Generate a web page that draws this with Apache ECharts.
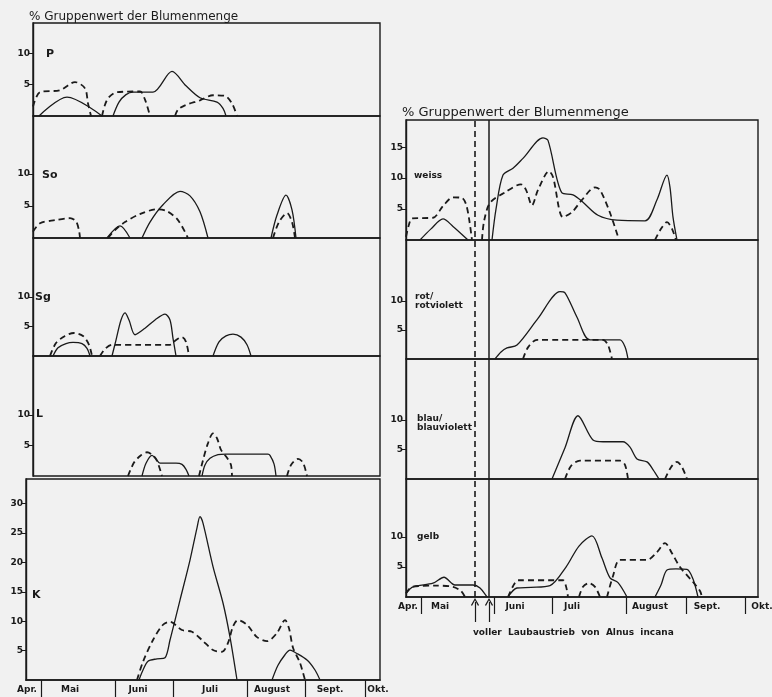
<!DOCTYPE html>
<html><head><meta charset="utf-8">
<script src="https://cdn.jsdelivr.net/npm/echarts@6/dist/echarts.min.js"></script>
<style>html,body{margin:0;padding:0;background:#f1f1f1}#c{width:772px;height:697px}</style>
</head><body><div id="c"></div>
<script>
// ---- axis annotations (x in figure units along the season axis) ----
const monthNames = ['Apr.', 'Mai', 'Juni', 'Juli', 'August', 'Sept.', 'Okt.'];
const leftMonthTicks = [15, 89, 147, 221, 279, 339];
const leftMonthLabelPos = [1, 44, 112, 184, 246, 304, 352];
const rightMonthTicks = [15, 88, 146, 220, 280, 339];
const rightMonthLabelPos = [2, 34, 109, 166, 244, 301, 356];
const laubaustrieb = [69, 83]; // dashed, solid
const yTicksSmall = [5, 10];
const yTicksWeiss = [5, 10, 15];
const yTicksK = [5, 10, 15, 20, 25, 30];

// ---- left chart series (solid / dashed segments) ----
const P_solid = [
  [[13,0],[41,3.0],[76,0]],
  [[87,0],[93,2.2],[100,3.4],[107,3.8],[127,3.8],[146,7.1],[160,4.8],[174,2.9],[191,2.2],[197,1.2],[200,0]]
];
const P_dashed = [
  [[7,1.5],[14,3.8],[34,4.1],[49,5.4],[59,4.4],[62,2.0],[65,0]],
  [[76,0],[79,1.8],[83,3.0],[91,3.8],[114,3.9],[119,2.6],[124,0]],
  [[149,0],[152,1.0],[159,1.7],[174,2.5],[187,3.3],[199,3.2],[206,2.0],[211,0]]
];
const So_solid = [
  [[81,0],[94,1.9],[104,0]],
  [[116,0],[124,2.5],[137,5.2],[154,7.3],[164,6.6],[174,4.1],[182,0]],
  [[245,0],[251,3.6],[260,6.7],[266,4.4],[270,0]]
];
const So_dashed = [
  [[7,1.0],[14,2.3],[29,2.8],[44,3.1],[50,2.6],[53,1.2],[54,0]],
  [[82,0],[89,1.25],[99,2.5],[114,3.75],[131,4.5],[141,4.2],[152,2.8],[162,0]],
  [[247,0],[253,2.5],[261,3.9],[266,2.5],[269,0]]
];
const Sg_solid = [
  [[27,0],[32,1.4],[40,2.1],[47,2.3],[56,2.1],[61,1.3],[64,0]],
  [[86,0],[90,2.7],[95,6.1],[99,7.3],[103,6.1],[109,3.6],[119,4.7],[129,6.1],[139,7.1],[144,6.1],[147,3.0],[150,0]],
  [[187,0],[193,2.4],[200,3.4],[207,3.7],[215,3.2],[221,1.9],[225,0]]
];
const Sg_dashed = [
  [[24,0],[30,2.2],[39,3.4],[48,3.9],[57,3.4],[63,1.9],[66,0]],
  [[74,0],[79,1.2],[86,1.9],[114,1.9],[144,1.9],[150,2.7],[156,3.2],[160,2.4],[163,0]]
];
const L_solid = [
  [[116,0],[120,2.1],[126,3.4],[130,2.8],[134,2.1],[150,2.1],[156,1.9],[160,1.1],[163,0]],
  [[176,0],[179,1.8],[184,2.9],[192,3.5],[200,3.6],[220,3.6],[242,3.6],[244,3.4],[248,2.0],[250,0]]
];
const L_dashed = [
  [[102,0],[108,2.2],[115,3.4],[121,3.9],[127,3.4],[131,2.5],[136,0]],
  [[173,0],[177,2.6],[182,5.4],[187,7.0],[191,6.2],[195,4.3],[201,3.0],[205,1.8],[206,0]],
  [[261,0],[265,1.8],[272,2.8],[277,2.2],[281,0]]
];
const K_solid = [
  [[113,0],[117,1.7],[122,3.2],[131,3.6],[139,3.8],[144,6.8],[154,13.6],[164,20.4],[171,25.9],[174,27.8],[177,26.7],[187,19.3],[197,13.1],[204,7.3],[211,0]],
  [[246,0],[252,2.5],[259,4.3],[264,5.1],[270,4.6],[281,3.4],[289,1.7],[294,0]]
];
const K_dashed = [
  [[111,0],[117,3.1],[127,6.8],[137,9.4],[144,9.9],[156,8.5],[166,8.2],[176,6.8],[187,5.1],[196,4.8],[202,6.3],[207,9.1],[212,10.2],[221,9.4],[231,7.3],[241,6.6],[251,8.0],[259,10.2],[263,8.8],[267,5.5],[274,2.9],[279,0]]
];

// ---- right chart series ----
const W_solid = [
  [[14,0],[25,1.8],[37,3.4],[47,2.2],[62,0]],
  [[86,0],[90,5.0],[97,10.5],[107,11.6],[117,13.2],[137,16.5],[142,16.1],[156,7.6],[167,7.3],[177,6.1],[192,4.0],[211,3.2],[239,3.1],[251,6.5],[261,10.5],[264,8.5],[267,3.7],[271,0]]
];
const W_dashed = [
  [[0,0.5],[3,2.5],[6,3.5],[27,3.6],[37,5.5],[47,6.9],[56,6.8],[60,5.8],[63,3.5],[66,0]],
  [[76,0],[78,3.0],[84,6.0],[99,7.7],[115,9.0],[120,8.1],[126,5.6],[132,8.1],[143,11.1],[147,10.2],[157,3.7],[166,4.5],[176,6.5],[189,8.5],[194,8.1],[204,4.4],[213,0]],
  [[249,0],[255,1.8],[261,2.9],[266,1.8],[270,0]]
];
const R_solid = [
  [[89,0],[95,1.2],[101,1.9],[111,2.4],[132,7.0],[154,11.6],[159,11.4],[171,7.2],[184,3.3],[214,3.3],[219,2.1],[222,0]]
];
const R_dashed = [
  [[117,0],[122,2.0],[131,3.3],[197,3.3],[202,2.4],[206,0]]
];
const B_solid = [
  [[146,0],[159,5.3],[172,10.7],[187,6.6],[197,6.3],[217,6.3],[224,5.4],[231,3.4],[241,2.9],[247,1.6],[253,0]]
];
const B_dashed = [
  [[159,0],[165,2.2],[174,3.1],[214,3.1],[219,2.4],[222,0]],
  [[259,0],[265,2.0],[271,2.9],[276,2.0],[281,0]]
];
const G_solid = [
  [[0,0.6],[7,1.7],[27,2.3],[38,3.3],[49,2.0],[67,2.0],[74,1.5],[81,0]],
  [[102,0],[111,1.5],[125,1.6],[144,1.9],[160,5.0],[173,8.5],[186,10.2],[196,6.5],[204,3.2],[212,2.4],[221,0]],
  [[249,0],[255,2.0],[261,4.5],[270,4.7],[281,4.6],[287,3.0],[292,0]]
];
const G_dashed = [
  [[0,0.6],[6,1.7],[30,1.9],[47,1.7],[55,1.0],[59,0]],
  [[102,0],[107,1.8],[112,2.8],[157,2.8],[160,1.8],[162,0]],
  [[173,0],[177,1.7],[183,2.3],[189,1.7],[194,0]],
  [[201,0],[207,3.5],[214,6.2],[241,6.2],[251,7.5],[259,9.0],[266,7.3],[274,5.0],[287,2.5],[294,1.0],[296,0]]
];

// ---- build option ----
const INK = '#1a1a1a';
const FONT = 'DejaVu Sans';
const panels = [
  {grid:{left:33,top:23,width:347,height:93}, xMin:7, xMax:354, yMax:14.8, yTicks:yTicksSmall, solid:P_solid, dashed:P_dashed},
  {grid:{left:33,top:116,width:347,height:122}, xMin:7, xMax:354, yMax:19.1, yTicks:yTicksSmall, solid:So_solid, dashed:So_dashed},
  {grid:{left:33,top:238,width:347,height:118}, xMin:7, xMax:354, yMax:20.0, yTicks:yTicksSmall, solid:Sg_solid, dashed:Sg_dashed},
  {grid:{left:33,top:356,width:347,height:120}, xMin:7, xMax:354, yMax:19.7, yTicks:yTicksSmall, solid:L_solid, dashed:L_dashed},
  {grid:{left:26,top:479,width:354,height:201}, xMin:0, xMax:354, yMax:34.2, yTicks:yTicksK, solid:K_solid, dashed:K_dashed, months:leftMonthTicks},
  {grid:{left:406,top:120,width:352,height:120}, xMin:0, xMax:352, yMax:19.4, yTicks:yTicksWeiss, solid:W_solid, dashed:W_dashed},
  {grid:{left:406,top:240,width:352,height:119}, xMin:0, xMax:352, yMax:20.5, yTicks:yTicksSmall, solid:R_solid, dashed:R_dashed},
  {grid:{left:406,top:359,width:352,height:120}, xMin:0, xMax:352, yMax:20.3, yTicks:yTicksSmall, solid:B_solid, dashed:B_dashed},
  {grid:{left:406,top:479,width:352,height:118}, xMin:0, xMax:352, yMax:19.7, yTicks:yTicksSmall, solid:G_solid, dashed:G_dashed, months:rightMonthTicks}
];

const grid = [], xAxis = [], yAxis = [], series = [];
const lbl = {fontFamily: FONT, fontWeight: 'bold', fontSize: 9, color: INK};

panels.forEach((p, i) => {
  grid.push(Object.assign({show:true, borderColor:INK, borderWidth:1.4, backgroundColor:'transparent', outerBoundsMode:'none'}, p.grid));
  xAxis.push({
    type:'value', gridIndex:i, min:p.xMin, max:p.xMax,
    axisLine:{show: !!p.months, lineStyle:{color:INK, width:1.7}},
    axisTick:{show: !!p.months, customValues: p.months || [], length:17, lineStyle:{color:INK, width:1.2}},
    axisLabel:{show:false}, splitLine:{show:false}
  });
  yAxis.push({
    type:'value', gridIndex:i, min:0, max:p.yMax,
    axisLine:{show:true, lineStyle:{color:INK, width:1.4}},
    axisTick:{show:true, customValues:p.yTicks, length:4, lineStyle:{color:INK}},
    axisLabel:Object.assign({show:true, customValues:p.yTicks, margin:3}, lbl),
    splitLine:{show:false}
  });
  const mk = (seg, dashed) => ({
    type:'line', xAxisIndex:i, yAxisIndex:i, data:seg, smooth:0.3, symbol:'none',
    silent:true, animation:false,
    lineStyle: dashed ? {color:INK, width:1.8, type:[6,4]} : {color:INK, width:1.3, type:'solid'}
  });
  p.solid.forEach(s => series.push(mk(s, false)));
  p.dashed.forEach(s => series.push(mk(s, true)));
});

// month-label axes (wider grids so labels may sit outside the frames)
function labelAxis(gridCfg, min, max, positions) {
  const gi = grid.length;
  grid.push(Object.assign({show:false, outerBoundsMode:'none'}, gridCfg));
  xAxis.push({
    type:'value', gridIndex:gi, min, max,
    axisLine:{show:false}, axisTick:{show:false}, splitLine:{show:false},
    axisLabel:Object.assign({show:true, customValues:positions, margin:5,
      formatter: v => monthNames[positions.indexOf(v)] || ''}, lbl)
  });
  yAxis.push({type:'value', gridIndex:gi, min:0, max:1, show:false});
  return gi;
}
labelAxis({left:0, top:679, width:390, height:1}, -26, 364, leftMonthLabelPos);
labelAxis({left:392, top:596, width:380, height:1}, -14, 366, rightMonthLabelPos);

// Laubaustrieb vertical lines
let gi = grid.length;
grid.push({show:false, left:406, top:120, width:352, height:477, outerBoundsMode:'none'});
xAxis.push({type:'value', gridIndex:gi, min:0, max:352, show:false});
yAxis.push({type:'value', gridIndex:gi, min:0, max:1, show:false});
series.push({
  type:'line', xAxisIndex:gi, yAxisIndex:gi, data:[[0,0]], symbol:'none', lineStyle:{opacity:0}, silent:true, animation:false,
  markLine:{symbol:'none', silent:true, label:{show:false}, animation:false,
    data:[
      {xAxis:laubaustrieb[0], lineStyle:{color:INK, width:1.6, type:[6,4]}},
      {xAxis:laubaustrieb[1], lineStyle:{color:INK, width:1.5, type:'solid'}}
    ]}
});
// arrows
gi = grid.length;
grid.push({show:false, left:406, top:602, width:352, height:20, outerBoundsMode:'none'});
xAxis.push({type:'value', gridIndex:gi, min:0, max:352, show:false});
yAxis.push({type:'value', gridIndex:gi, min:0, max:1, show:false});
const arrowSym = 'path://M0,8 L5,0 L10,8 L8.8,9 L5,2.6 L1.2,9 Z';
series.push({
  type:'line', xAxisIndex:gi, yAxisIndex:gi, data:[[0,0]], symbol:'none', lineStyle:{opacity:0}, silent:true, animation:false,
  markLine:{symbol:['none', arrowSym], symbolSize:[8,8], silent:true, label:{show:false}, animation:false,
    lineStyle:{color:INK, width:1.2, type:'solid'},
    data: laubaustrieb.map(x => [{coord:[x,0]}, {coord:[x,1]}])}
});

const txt = (x, y, text, size, weight) => ({
  type:'text', left:x, top:y, silent:true,
  style:{text, font:`${weight||'bold'} ${size}px "${FONT}"`, fill:INK, lineHeight:size}
});

const option = {
  backgroundColor:'#f1f1f1',
  animation:false,
  grid, xAxis, yAxis, series,
  graphic:[
    txt(29, 11, '% Gruppenwert der Blumenmenge', 12, 'normal'),
    txt(402, 106, '% Gruppenwert der Blumenmenge', 13, 'normal'),
    txt(46, 49, 'P', 11), txt(42, 170, 'So', 11), txt(35, 292, 'Sg', 11),
    txt(36, 409, 'L', 11), txt(32, 590, 'K', 11),
    txt(414, 171, 'weiss', 9), txt(415, 292, 'rot/\nrotviolett', 9),
    txt(417, 414, 'blau/\nblauviolett', 9), txt(417, 532, 'gelb', 9),
    txt(473, 628, 'voller  Laubaustrieb  von  Alnus  incana', 9)
  ]
};
const chart = echarts.init(document.getElementById('c'), null, {renderer:'canvas'});
chart.setOption(option);
</script></body></html>
